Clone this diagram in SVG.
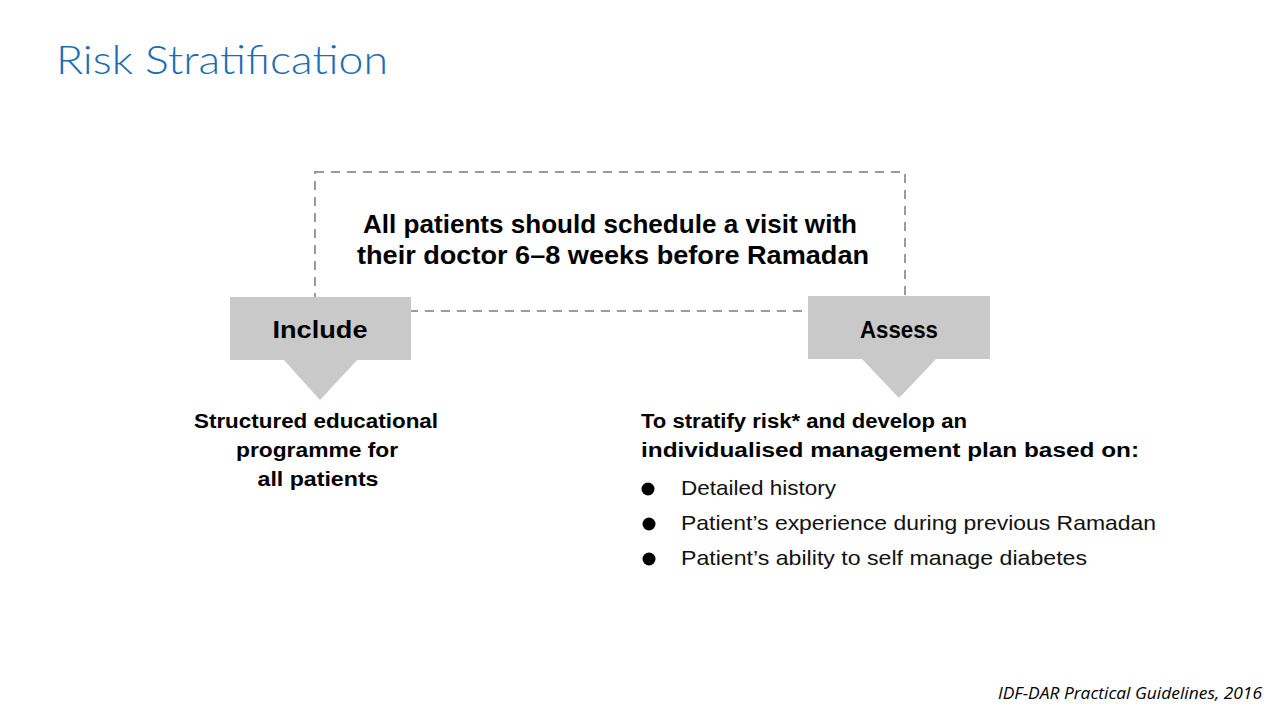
<svg xmlns="http://www.w3.org/2000/svg" width="1280" height="720" viewBox="0 0 1280 720">
<style>
.title{font-family:Lato,"Open Sans",sans-serif;font-weight:300;font-size:40px;fill:#1a6db3}
.b{font-family:"Liberation Sans",Arial,sans-serif;font-weight:bold;fill:#000}
.n{font-family:"Liberation Sans",Arial,sans-serif;fill:#111}
.box{fill:#c9c9c9}
.dash{fill:none;stroke:#9a9a9a;stroke-width:2;stroke-dasharray:9,7}
.foot{font-family:"Open Sans","Liberation Sans",sans-serif;font-style:italic;font-size:16px;fill:#000}
</style>
<rect width="1280" height="720" fill="#fff"/>
<text class="title" x="56" y="74" textLength="332" lengthAdjust="spacingAndGlyphs">Risk Stratification</text>
<g id="connectors">
<rect class="dash" x="315" y="172" width="590" height="139"/>
</g>
<g id="top">
<text class="b" x="610" y="233" font-size="25" text-anchor="middle" textLength="494" lengthAdjust="spacingAndGlyphs">All patients should schedule a visit with</text>
<text class="b" x="613" y="264" font-size="25" text-anchor="middle" textLength="512" lengthAdjust="spacingAndGlyphs">their doctor 6–8 weeks before Ramadan</text>
</g>
<g id="include">
<rect class="box" x="230" y="297" width="181" height="63"/>
<polygon class="box" points="283,359 358,359 320,400"/>
<text class="b" x="320" y="338" font-size="24" text-anchor="middle" textLength="95" lengthAdjust="spacingAndGlyphs">Include</text>
</g>
<g id="assess">
<rect class="box" x="808" y="296" width="182" height="63"/>
<polygon class="box" points="861,358 937,358 899,398"/>
<text class="b" x="899" y="338" font-size="24" text-anchor="middle" textLength="78" lengthAdjust="spacingAndGlyphs">Assess</text>
</g>
<g id="include-text">
<text class="b" x="316" y="428" font-size="20" text-anchor="middle" textLength="244" lengthAdjust="spacingAndGlyphs">Structured educational</text>
<text class="b" x="317" y="457" font-size="20" text-anchor="middle" textLength="162" lengthAdjust="spacingAndGlyphs">programme for</text>
<text class="b" x="318" y="486" font-size="20" text-anchor="middle" textLength="121" lengthAdjust="spacingAndGlyphs">all patients</text>
</g>
<g id="assess-text">
<text class="b" x="641" y="428" font-size="20" textLength="326" lengthAdjust="spacingAndGlyphs">To stratify risk* and develop an</text>
<text class="b" x="641" y="457" font-size="20" textLength="498" lengthAdjust="spacingAndGlyphs">individualised management plan based on:</text>
<circle cx="648" cy="489" r="6.5" fill="#000"/>
<circle cx="649" cy="524" r="6.5" fill="#000"/>
<circle cx="649" cy="559" r="6.5" fill="#000"/>
<text class="n" x="681" y="495" font-size="21" textLength="155" lengthAdjust="spacingAndGlyphs">Detailed history</text>
<text class="n" x="681" y="530" font-size="21" textLength="475" lengthAdjust="spacingAndGlyphs">Patient’s experience during previous Ramadan</text>
<text class="n" x="681" y="565" font-size="21" textLength="406" lengthAdjust="spacingAndGlyphs">Patient’s ability to self manage diabetes</text>
</g>
<text class="foot" x="1262" y="699" text-anchor="end" textLength="264" lengthAdjust="spacingAndGlyphs">IDF-DAR Practical Guidelines, 2016</text>
</svg>
